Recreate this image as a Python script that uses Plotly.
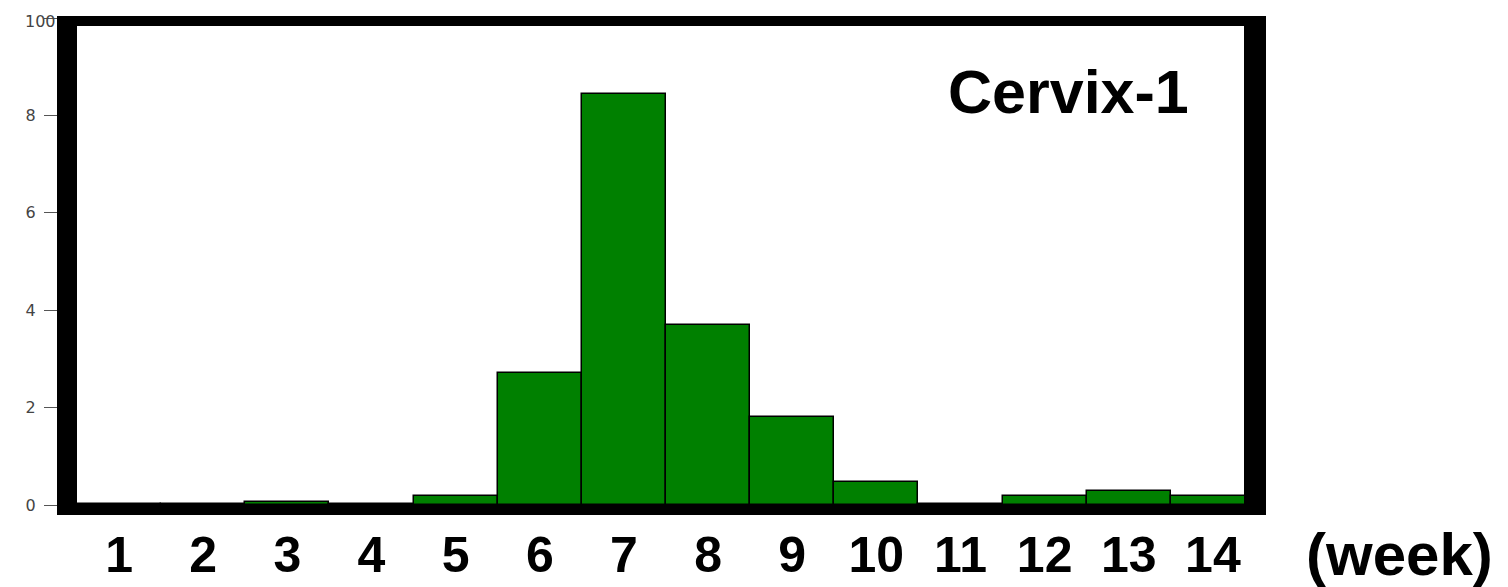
import plotly.graph_objects as go

weeks = [1, 2, 3, 4, 5, 6, 7, 8, 9, 10, 11, 12, 13, 14]
week_labels = [str(w) for w in weeks]
values = [0.2, 0.2, 0.6, 0.3, 1.8, 27.2, 84.4, 37.0, 18.0, 4.7, 0.3, 1.8, 2.8, 1.8]
y_tickvals = [0, 20, 40, 60, 80, 100]
y_ticktext = ["0", "2", "4", "6", "8", ""]
top_label = "100"

PAGE_W, PAGE_H = 1508, 587
OFF = 8  # default body margin of the html page
W, H = PAGE_W - OFF, PAGE_H - OFF
L, R, T, B = 77, 1255, 18, 505  # plot area in page px
pw, ph = R - L, B - T

def px(x):
    return (x - L) / pw

def py(y):
    return (B - y) / ph

fig = go.Figure()
fig.add_trace(go.Bar(
    x=weeks, y=values,
    width=1.0,
    marker=dict(color="#008000", line=dict(color="black", width=1.5)),
    hoverinfo="skip",
))

frame = [
    (57, 16, 77, 515),     # left
    (57, 16, 1266, 26),    # top
    (1244, 16, 1266, 515), # right
    (57, 505, 1266, 515),  # bottom
]
shapes = []
for x0, y0, x1, y1 in frame:
    shapes.append(dict(type="rect", xref="paper", yref="paper",
                       x0=px(x0), x1=px(x1), y0=py(y1), y1=py(y0),
                       fillcolor="black", line=dict(width=0), layer="above"))

fig.update_layout(
    width=W, height=H,
    margin=dict(l=L - OFF, r=PAGE_W - R, t=T - OFF, b=PAGE_H - B, pad=0),
    paper_bgcolor="white", plot_bgcolor="white",
    showlegend=False,
    bargap=0,
    shapes=shapes,
    font=dict(family="Liberation Sans, Arial, sans-serif"),
    xaxis=dict(
        range=[0.5, 14.5], tickvals=weeks, ticktext=week_labels,
        showgrid=False, zeroline=False, showline=False, ticks="",
        automargin=False,
        tickfont=dict(size=50, color="black", family="Liberation Sans, Arial, sans-serif", weight="bold"),
        ticklabelstandoff=16,
    ),
    yaxis=dict(
        range=[0, 100], tickvals=y_tickvals, ticktext=y_ticktext,
        showgrid=False, zeroline=False, showline=False,
        automargin=False, ticklabeloverflow="allow",
        ticks="outside", ticklen=32, tickwidth=1, tickcolor="#555",
        tickfont=dict(size=16, color="#444", family="DejaVu Sans, sans-serif"),
        ticklabelstandoff=5,
    ),
    annotations=[
        dict(text=top_label, xref="paper", yref="paper",
             x=px(58), y=py(21), xanchor="right", yanchor="middle",
             showarrow=False,
             font=dict(size=16, color="#444", family="DejaVu Sans, sans-serif")),
        dict(text="<b>Cervix-1</b>", xref="paper", yref="paper",
             x=px(1191), y=py(92), xanchor="right", yanchor="middle",
             showarrow=False, font=dict(size=61, color="black")),
        dict(text="<b>(week)</b>", xref="paper", yref="paper",
             x=px(1304), y=py(554), xanchor="left", yanchor="middle",
             showarrow=False, font=dict(size=60, color="black")),
    ],
)

fig.write_html("out.html")
